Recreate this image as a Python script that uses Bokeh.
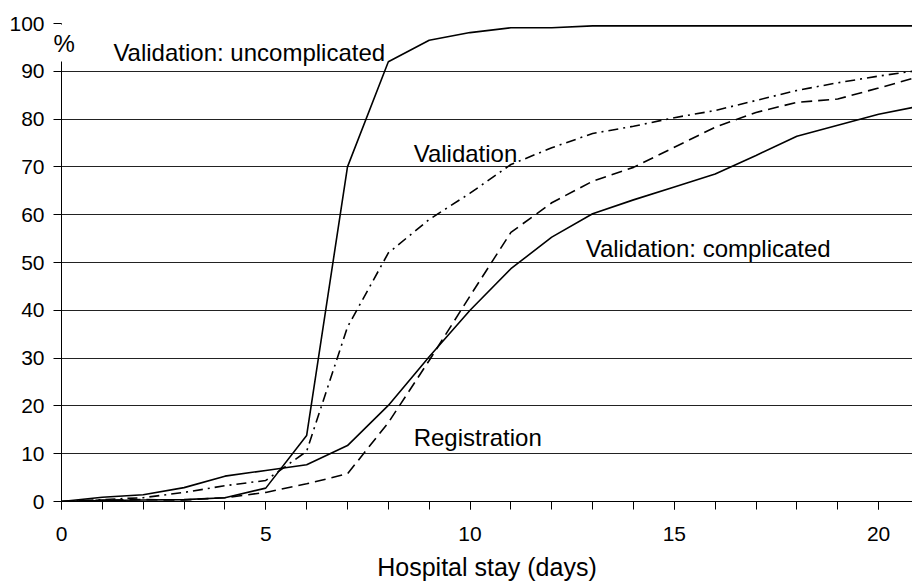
from bokeh.plotting import figure
from bokeh.models import Label, SingleIntervalTicker, FixedTicker, Range1d, Title
from bokeh.embed import file_html
from bokeh.resources import INLINE

# Cumulative share of patients discharged (%) by length of hospital stay (days)
days = list(range(0, 22))

validation_uncomplicated = [0, 0.2, 0.3, 0.4, 0.8, 2.8, 13.8, 70.0, 92.0, 96.5, 98.1,
                            99.1, 99.1, 99.5, 99.5, 99.5, 99.5, 99.5, 99.5, 99.5, 99.5, 99.5]
validation_all = [0, 0.4, 0.8, 1.9, 3.3, 4.4, 10.5, 36.5, 52.0, 59.0, 64.5,
                  70.5, 74.0, 77.0, 78.5, 80.3, 81.8, 83.9, 86.0, 87.6, 89.0, 90.2]
registration = [0, 0.3, 0.4, 0.3, 0.8, 1.9, 3.7, 5.8, 16.5, 29.5, 43.0,
                56.3, 62.5, 67.0, 69.9, 74.1, 78.3, 81.4, 83.5, 84.2, 86.5, 88.9]
validation_complicated = [0, 0.9, 1.4, 2.9, 5.3, 6.5, 7.7, 11.7, 20.1, 30.3, 40.0,
                          48.7, 55.3, 60.2, 63.1, 65.8, 68.5, 72.4, 76.4, 78.7, 81.0, 82.7]

y_ticks = [0, 10, 20, 30, 40, 50, 60, 70, 80, 90, 100]

FONT = "Liberation Sans"

p = figure(width=912, height=583, output_backend="svg", toolbar_location=None,
           x_range=Range1d(0, 20.83), y_range=Range1d(0, 100),
           min_border_left=61, min_border_right=0, min_border_top=23,
           min_border_bottom=82)
p.outline_line_color = None
p.background_fill_color = "white"
p.border_fill_color = "white"

# axes
p.xaxis.ticker = SingleIntervalTicker(interval=5, num_minor_ticks=5)
p.yaxis.ticker = FixedTicker(ticks=y_ticks)
for ax in (p.xaxis, p.yaxis):
    ax.axis_line_color = "black"
    ax.axis_line_width = 1
    ax.major_tick_line_color = "black"
    ax.major_tick_in = 0
    ax.major_tick_out = 8
    ax.major_label_text_font = FONT
    ax.major_label_text_font_size = "21px"
    ax.major_label_text_color = "black"
p.xaxis.minor_tick_line_color = "black"
p.xaxis.minor_tick_in = 0
p.xaxis.minor_tick_out = 8
p.yaxis.minor_tick_line_color = None
p.xaxis.major_label_standoff = 17
p.yaxis.major_label_standoff = 9
p.xaxis.axis_label = "Hospital stay (days)"
p.xaxis.axis_label_text_font = FONT
p.xaxis.axis_label_text_font_size = "25px"
p.xaxis.axis_label_text_font_style = "normal"
p.xaxis.axis_label_text_color = "black"
p.xaxis.axis_label_standoff = 9

p.xgrid.grid_line_color = None
p.ygrid.ticker = FixedTicker(ticks=y_ticks[1:])
p.ygrid.grid_line_color = "#222222"
p.ygrid.grid_line_width = 1

# curves
lw = 1.6
p.line(days, validation_uncomplicated, line_color="black", line_width=lw)
p.line(days, validation_all, line_color="black", line_width=lw, line_dash="10 5 2 5")
p.line(days, registration, line_color="black", line_width=lw, line_dash="11 6")
p.line(days, validation_complicated, line_color="black", line_width=lw)

# unit sign straddling the y axis; its white box interrupts the axis line
unit = Title(text="%", align="left", offset=-13, vertical_align="bottom",
             standoff=-76, text_font=FONT, text_font_size="24px",
             text_font_style="normal", text_color="black",
             background_fill_color="white", padding=5)
p.add_layout(unit, "above")

# curve labels
def note(text, x, y, align="left", size="24px"):
    p.add_layout(Label(x=x, y=y, text=text, text_font=FONT, text_font_size=size,
                       text_color="black", text_align=align,
                       text_baseline="alphabetic"))

note("Validation: uncomplicated", 1.27, 93.9)
note("Validation", 8.62, 72.8)
note("Validation: complicated", 12.83, 52.9)
note("Registration", 8.62, 13.4)

open("out.html", "w").write(file_html(p, INLINE))
